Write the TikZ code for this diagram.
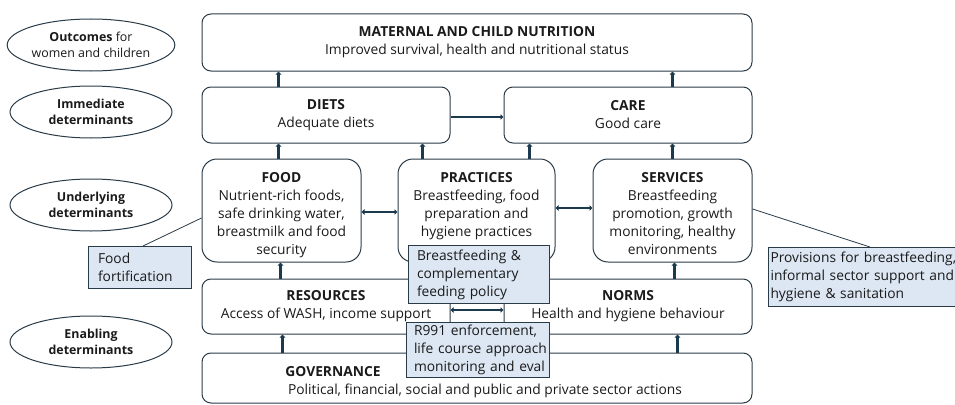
\documentclass[tikz,border=0pt]{standalone}
\usepackage{fontspec}
\setmainfont{Open Sans}
\usetikzlibrary{arrows.meta,shapes.geometric}
\definecolor{edge}{HTML}{2A3B48}
\definecolor{link}{HTML}{1C3A4E}
\definecolor{note}{HTML}{DCE7F3}
\definecolor{ink}{HTML}{1A1A1A}
\newcommand{\mainsize}{\fontsize{13.8}{18}\selectfont}
\begin{document}
\begin{tikzpicture}[x=1pt,y=-1pt,
  every node/.style={text=ink},
  box/.style={draw=edge, line width=1pt, rounded corners=9pt, align=center,
    inner sep=0pt, font=\mainsize},
  tall/.style={box, rounded corners=15pt},
  boxtext/.style={anchor=north, align=center, inner sep=0pt, font=\mainsize},
  level/.style={draw=edge, line width=1pt, ellipse, minimum width=162pt,
    minimum height=52pt, align=center, inner sep=0pt,
    font=\fontsize{12.4}{16}\selectfont},
  notebox/.style={draw=edge, line width=1pt, fill=note, align=left,
    anchor=north west, inner sep=0pt, font=\mainsize},
  arr/.style={draw=link, line width=2.4pt, -{Triangle[length=3pt,width=5.5pt]}},
  both/.style={draw=link, line width=2.4pt,
    {Triangle[length=3pt,width=5.5pt]}-{Triangle[length=3pt,width=5.5pt]}},
  lead/.style={draw=edge, line width=0.8pt}]

\useasboundingbox (0,0) rectangle (955,404);

% level labels
\node[level] (l1) at (91,45)  {\textbf{Outcomes} for\\women and children};
\node[level] (l2) at (91,112) {\textbf{Immediate}\\\textbf{determinants}};
\node[level] (l3) at (91,205) {\textbf{Underlying}\\\textbf{determinants}};
\node[level] (l4) at (91,342) {\textbf{Enabling}\\\textbf{determinants}};

% outcome and immediate determinants
\node[box, minimum width=550pt, minimum height=57pt] (mat) at (477,42.5)
  {\textbf{MATERNAL AND CHILD NUTRITION}\\Improved survival, health and nutritional status};
\node[box, minimum width=248pt, minimum height=56pt] (diets) at (326,115)
  {\textbf{DIETS}\\Adequate diets};
\node[box, minimum width=248pt, minimum height=56pt] (care) at (628,115)
  {\textbf{CARE}\\Good care};

% underlying determinants
\node[tall, minimum width=159pt, minimum height=103pt] (food) at (281.5,210.5) {};
\node[tall, minimum width=157pt, minimum height=103pt] (prac) at (476.5,210.5) {};
\node[tall, minimum width=159pt, minimum height=103pt] (serv) at (672.5,210.5) {};
\node[boxtext] at ([yshift=-13.5pt]food.north)
  {\textbf{FOOD}\\Nutrient-rich foods,\\safe drinking water,\\breastmilk and food\\security};
\node[boxtext] at ([yshift=-13.5pt]prac.north)
  {\textbf{PRACTICES}\\Breastfeeding, food\\preparation and\\hygiene practices};
\node[boxtext] at ([yshift=-13.5pt]serv.north)
  {\textbf{SERVICES}\\Breastfeeding\\promotion, growth\\monitoring, healthy\\environments};

% enabling determinants
\node[box, minimum width=248pt, minimum height=55pt] (res) at (326,306.5)
  {\textbf{RESOURCES}\\Access of WASH, income support};
\node[box, minimum width=248pt, minimum height=55pt] (norms) at (628,306.5)
  {\textbf{NORMS}\\Health and hygiene behaviour};
\node[box, minimum width=550pt, minimum height=50pt] (gov) at (477,378) {};
\node[font=\mainsize, inner sep=0pt] at (333,372) {\textbf{GOVERNANCE}};
\node[font=\mainsize, inner sep=0pt] at (485,391)
  {Political, financial, social and public and private sector actions};

% upward links
\draw[arr] ([xshift=77pt]diets.north west) -- ([xshift=77pt]diets.north west |- mat.south);
\draw[arr] ([xshift=169pt]care.north west) -- ([xshift=169pt]care.north west |- mat.south);
\draw[arr] ([yshift=-2pt]diets.east) -- ([yshift=-2pt]care.west);
\draw[arr] ([xshift=77pt]food.north west) -- ([xshift=77pt]food.north west |- diets.south);
\draw[arr] ([xshift=25pt]prac.north west) -- ([xshift=25pt]prac.north west |- diets.south);
\draw[arr] ([xshift=132pt]prac.north west) -- ([xshift=132pt]prac.north west |- care.south);
\draw[arr] ([xshift=80pt]serv.north west) -- ([xshift=80pt]serv.north west |- care.south);
\draw[both] ([yshift=-1.5pt]food.east) -- ([yshift=-1.5pt]food.east -| prac.west);
\draw[both] ([yshift=2.5pt]prac.east) -- ([yshift=2.5pt]prac.east -| serv.west);
\draw[arr] ([xshift=79pt]res.north west) -- ([xshift=79pt]res.north west |- food.south);
\draw[arr] ([xshift=171pt]norms.north west) -- ([xshift=171pt]norms.north west |- serv.south);
\draw[both] ([yshift=-3.5pt]res.east) -- ([yshift=-3.5pt]norms.west);
\draw[arr] ([xshift=81pt]gov.north west) -- ([xshift=81pt]gov.north west |- res.south);
\draw[arr] ([xshift=476pt]gov.north west) -- ([xshift=476pt]gov.north west |- norms.south);

% policy notes
\node[notebox, minimum width=103pt, minimum height=42pt, text width=100pt] (fort) at (88,246)
  {\hspace*{8pt}Food\\\hspace*{8pt}fortification};
\node[notebox, minimum width=141pt, minimum height=58pt, text width=138pt] (pol) at (408,245)
  {\hspace*{7pt}Breastfeeding \&\\\hspace*{7pt}complementary\\\hspace*{7pt}feeding policy};
\node[notebox, minimum width=143pt, minimum height=55pt, text width=140pt] (code) at (406,322)
  {\hspace*{6pt}R991 enforcement,\\\hspace*{6pt}life course approach\\\hspace*{6pt}monitoring and eval};
\node[notebox, minimum width=190pt, minimum height=59pt, text width=190pt] (prov) at (768,247)
  {\hspace*{2pt}Provisions for breastfeeding,\\\hspace*{2pt}informal sector support and\\\hspace*{2pt}hygiene \& sanitation};

\draw[lead] ([yshift=-7.5pt]food.west) -- ([xshift=55pt]fort.north west);
\draw[lead] ([yshift=1.5pt]serv.east) -- ([xshift=102pt]prov.north west);
\end{tikzpicture}
\end{document}
